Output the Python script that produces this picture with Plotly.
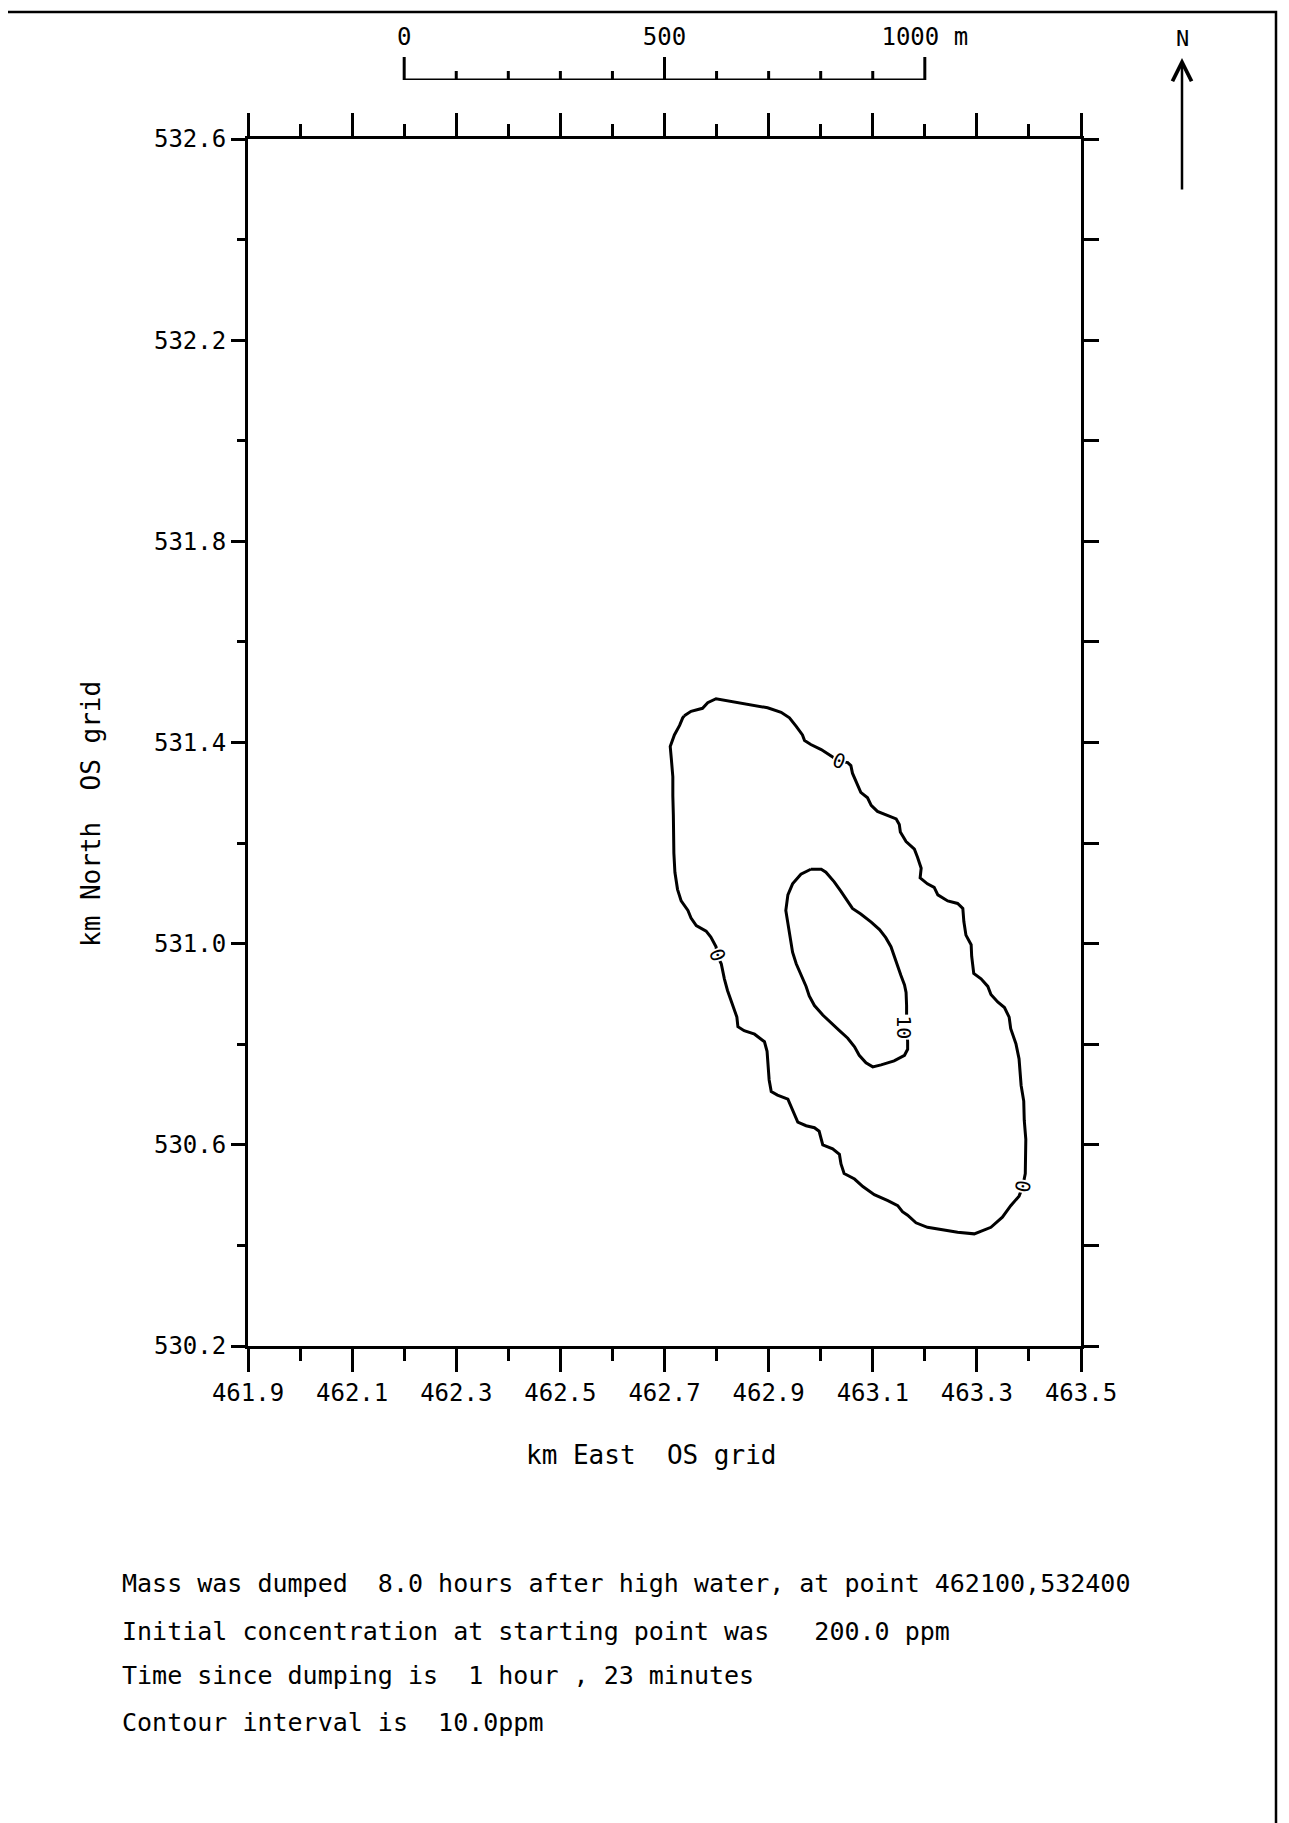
import plotly.graph_objects as go

# ---------------- data (km, OS grid) ----------------
X_RANGE = [461.9, 463.5]
Y_RANGE = [530.2, 532.6]

OUTER_X = [462.738, 462.751, 462.773, 462.783, 462.799, 462.821, 462.847, 462.879, 462.898, 462.924,
           462.940, 462.953, 462.965, 462.969, 462.981, 463.001, 463.020, 463.035, 463.052, 463.058,
           463.061, 463.068, 463.077, 463.090, 463.097, 463.109, 463.129, 463.145, 463.151, 463.153,
           463.164, 463.180, 463.186, 463.193, 463.191, 463.205, 463.218, 463.225, 463.244, 463.263,
           463.273, 463.275, 463.279, 463.289, 463.290, 463.294, 463.308, 463.321, 463.327, 463.340,
           463.353, 463.362, 463.365, 463.375, 463.381, 463.383, 463.385, 463.390, 463.391, 463.394,
           463.394, 463.393, 463.388, 463.381, 463.365, 463.349, 463.327, 463.295, 463.263, 463.231,
           463.205, 463.183, 463.167, 463.157, 463.148, 463.129, 463.103, 463.081, 463.065, 463.045,
           463.039, 463.036, 463.023, 463.004, 463.001, 462.997, 462.988, 462.972, 462.956, 462.949,
           462.943, 462.937, 462.917, 462.905, 462.901, 462.898, 462.897, 462.892, 462.873, 462.853,
           462.841, 462.839, 462.834, 462.828, 462.821, 462.815, 462.812, 462.809, 462.801, 462.799,
           462.789, 462.780, 462.761, 462.751, 462.745, 462.732, 462.725, 462.720, 462.718, 462.718,
           462.717, 462.716, 462.716, 462.713, 462.711, 462.719, 462.729, 462.735, 462.738]
OUTER_Y = [531.453, 531.462, 531.468, 531.479, 531.487, 531.483, 531.477, 531.472, 531.469, 531.460,
           531.449, 531.432, 531.415, 531.404, 531.396, 531.386, 531.373, 531.363, 531.360, 531.354,
           531.339, 531.322, 531.301, 531.290, 531.275, 531.263, 531.254, 531.248, 531.237, 531.222,
           531.203, 531.188, 531.172, 531.150, 531.131, 531.119, 531.112, 531.097, 531.085, 531.080,
           531.070, 531.044, 531.017, 530.998, 530.975, 530.941, 530.930, 530.915, 530.899, 530.884,
           530.873, 530.854, 530.831, 530.801, 530.771, 530.748, 530.718, 530.687, 530.649, 530.611,
           530.574, 530.543, 530.517, 530.498, 530.479, 530.456, 530.436, 530.423, 530.426, 530.431,
           530.436, 530.445, 530.460, 530.467, 530.479, 530.489, 530.501, 530.517, 530.532, 530.543,
           530.562, 530.581, 530.592, 530.600, 530.611, 530.627, 530.634, 530.638, 530.645, 530.661,
           530.676, 530.691, 530.699, 530.706, 530.729, 530.763, 530.786, 530.805, 530.820, 530.827,
           530.835, 530.854, 530.869, 530.888, 530.907, 530.930, 530.949, 530.960, 530.977, 530.994,
           531.013, 531.025, 531.036, 531.051, 531.066, 531.085, 531.108, 531.142, 531.180, 531.218,
           531.256, 531.294, 531.332, 531.369, 531.392, 531.415, 531.434, 531.449, 531.453]

INNER_X = [462.981, 463.001, 463.010, 463.026, 463.039, 463.052, 463.061, 463.077, 463.097, 463.113,
           463.125, 463.135, 463.141, 463.148, 463.154, 463.161, 463.164, 463.165, 463.165, 463.167,
           463.167, 463.161, 463.141, 463.116, 463.100, 463.087, 463.074, 463.065, 463.052, 463.036,
           463.020, 463.004, 462.988, 462.978, 462.972, 462.962, 462.953, 462.946, 462.942, 462.937,
           462.933, 462.937, 462.946, 462.962, 462.981]
INNER_Y = [531.148, 531.148, 531.142, 531.123, 531.104, 531.085, 531.070, 531.059, 531.043, 531.028,
           531.012, 530.994, 530.975, 530.956, 530.937, 530.918, 530.903, 530.877, 530.854, 530.805,
           530.790, 530.778, 530.767, 530.759, 530.755, 530.763, 530.778, 530.795, 530.812, 530.827,
           530.843, 530.858, 530.877, 530.896, 530.915, 530.937, 530.960, 530.983, 531.006, 531.036,
           531.066, 531.097, 531.119, 531.138, 531.148]

# contour labels: text, x, y, angle
LABEL_TEXT = ["0", "0", "0", "10"]
LABEL_X = [463.035, 462.801, 463.388, 463.161]
LABEL_Y = [531.363, 530.977, 530.517, 530.835]
LABEL_ANGLE = [20, 70, -80, 90]

# scale bar (metres), origin at easting 462.2 km
SCALE_ORIGIN_KM = 462.2
SCALE_M = [0, 100, 200, 300, 400, 500, 600, 700, 800, 900, 1000]
SCALE_LABEL_M = [0, 500, 1000]
SCALE_LABEL_TEXT = ["0", "500", "1000 m"]

INFO_LINES = [
    "Mass was dumped\u00a0 8.0 hours after high water, at point 462100,532400",
    "Initial concentration at starting point was\u00a0\u00a0 200.0 ppm",
    "Time since dumping is\u00a0 1 hour , 23 minutes",
    "Contour interval is\u00a0 10.0ppm",
]

FONT = "DejaVu Sans Mono"
BLACK = "black"
LW = 3

# ---------------- layout geometry ----------------
W, H = 1289, 1823
OFF = 8  # page body margin in the browser
# targets in screenshot pixels
PLOT_L, PLOT_R, PLOT_T, PLOT_B = 248, 1081, 139, 1346
PAPER_T = 10
ML = PLOT_L - OFF
MR = W - (PLOT_R - OFF)
MT = PAPER_T - OFF
MB = H - (PLOT_B - OFF)
PW = W - ML - MR
PH = H - MT - MB


def sy(py):
    """screenshot y pixel -> paper y"""
    return (PLOT_B - py) / PH


def sx(px):
    """screenshot x pixel -> paper x"""
    return (px - PLOT_L) / PW


fig = go.Figure()

# contours
fig.add_trace(go.Scatter(x=OUTER_X, y=OUTER_Y, mode="lines",
                         line=dict(color=BLACK, width=LW), showlegend=False, hoverinfo="skip"))
fig.add_trace(go.Scatter(x=INNER_X, y=INNER_Y, mode="lines",
                         line=dict(color=BLACK, width=LW), showlegend=False, hoverinfo="skip"))

# scale bar (on auxiliary y axis y3 sharing x)
bar_x, bar_y = [], []
for m in SCALE_M:
    xk = SCALE_ORIGIN_KM + m / 1000.0
    h = 23 if m in SCALE_LABEL_M else 9
    bar_x += [xk, xk, None]
    bar_y += [0, h, None]
bar_x += [SCALE_ORIGIN_KM, SCALE_ORIGIN_KM + SCALE_M[-1] / 1000.0]
bar_y += [0, 0]
fig.add_trace(go.Scatter(x=bar_x, y=bar_y, mode="lines", yaxis="y3",
                         line=dict(color=BLACK, width=LW), showlegend=False,
                         hoverinfo="skip", cliponaxis=False))
fig.add_trace(go.Scatter(x=[SCALE_ORIGIN_KM + m / 1000.0 for m in SCALE_LABEL_M],
                         y=[41] * len(SCALE_LABEL_M), text=SCALE_LABEL_TEXT, mode="text",
                         yaxis="y3", textfont=dict(family=FONT, size=24, color=BLACK),
                         showlegend=False, hoverinfo="skip", cliponaxis=False))

# right-hand axis carrier
fig.add_trace(go.Scatter(x=[None], y=[None], yaxis="y2", showlegend=False, hoverinfo="skip"))

fig.update_layout(
    width=W, height=H,
    margin=dict(l=ML, r=MR, t=MT, b=MB, autoexpand=False),
    paper_bgcolor="white", plot_bgcolor="white",
    showlegend=False,
    xaxis=dict(range=X_RANGE, tick0=461.9, dtick=0.2, tickformat=".1f",
               ticks="outside", ticklen=23, tickwidth=LW, tickcolor=BLACK,
               minor=dict(dtick=0.1, tick0=461.9, ticks="outside", ticklen=12, tickwidth=LW,
                          tickcolor=BLACK, showgrid=False),
               showline=True, linecolor=BLACK, linewidth=LW, mirror="ticks",
               showgrid=False, zeroline=False, automargin=False,
               tickfont=dict(family=FONT, size=24, color=BLACK), anchor="y"),
    yaxis=dict(range=Y_RANGE, domain=[0, sy(PLOT_T)], tick0=530.2, dtick=0.4, tickformat=".1f",
               ticks="outside", ticklen=14, tickwidth=LW, tickcolor=BLACK,
               minor=dict(dtick=0.2, tick0=530.2, ticks="outside", ticklen=8, tickwidth=LW,
                          tickcolor=BLACK, showgrid=False),
               showline=True, linecolor=BLACK, linewidth=LW,
               showgrid=False, zeroline=False, automargin=False,
               tickfont=dict(family=FONT, size=24, color=BLACK), anchor="x"),
    yaxis2=dict(range=Y_RANGE, overlaying="y", side="right", anchor="x",
                tick0=530.2, dtick=0.2, ticks="outside", ticklen=15, tickwidth=LW,
                tickcolor=BLACK, showticklabels=False, showline=True, linecolor=BLACK,
                linewidth=LW, showgrid=False, zeroline=False, automargin=False),
    yaxis3=dict(range=[0, 60], domain=[sy(80), sy(20)], anchor="x",
                visible=False, showgrid=False, zeroline=False, automargin=False),
)

ann = []
# contour labels
for t, x, y, a in zip(LABEL_TEXT, LABEL_X, LABEL_Y, LABEL_ANGLE):
    ann.append(dict(x=x, y=y, xref="x", yref="y", text=t, showarrow=False, textangle=a,
                    xanchor="center", yanchor="middle",
                    font=dict(family=FONT, size=20, color=BLACK), bgcolor="white", borderpad=0))

# axis titles
ann.append(dict(x=sx(651), y=sy(1455), xref="paper", yref="paper",
                text="km East\u00a0 OS grid", showarrow=False, xanchor="center", yanchor="middle",
                font=dict(family=FONT, size=26, color=BLACK)))
ann.append(dict(x=sx(91), y=sy(814), xref="paper", yref="paper",
                text="km North\u00a0 OS grid", showarrow=False, textangle=-90,
                xanchor="center", yanchor="middle",
                font=dict(family=FONT, size=26, color=BLACK)))

# info text
for line, cy in zip(INFO_LINES, [1584, 1631, 1675, 1722]):
    ann.append(dict(x=sx(120), y=sy(cy), xref="paper", yref="paper",
                    text=line, showarrow=False, xanchor="left", yanchor="middle",
                    font=dict(family=FONT, size=25, color=BLACK)))

# north arrow
ann.append(dict(x=sx(1182), y=sy(58), xref="paper", yref="paper", text="",
                showarrow=True, ax=0, ay=133, arrowhead=5, arrowsize=1.5, arrowwidth=2.5,
                arrowcolor=BLACK))
ann.append(dict(x=sx(1182), y=sy(38), xref="paper", yref="paper", text="N",
                showarrow=False, xanchor="center", yanchor="middle",
                font=dict(family=FONT, size=22, color=BLACK)))

fig.update_layout(annotations=ann)

# page border (left, top, right)
fig.add_shape(type="path", xref="paper", yref="paper",
              path=f"M {sx(5)},{sy(1840)} L {sx(5)},{sy(12)} "
                   f"L {sx(1276)},{sy(12)} L {sx(1276)},{sy(1840)}",
              line=dict(color=BLACK, width=2.5))

fig.write_html("out.html")
